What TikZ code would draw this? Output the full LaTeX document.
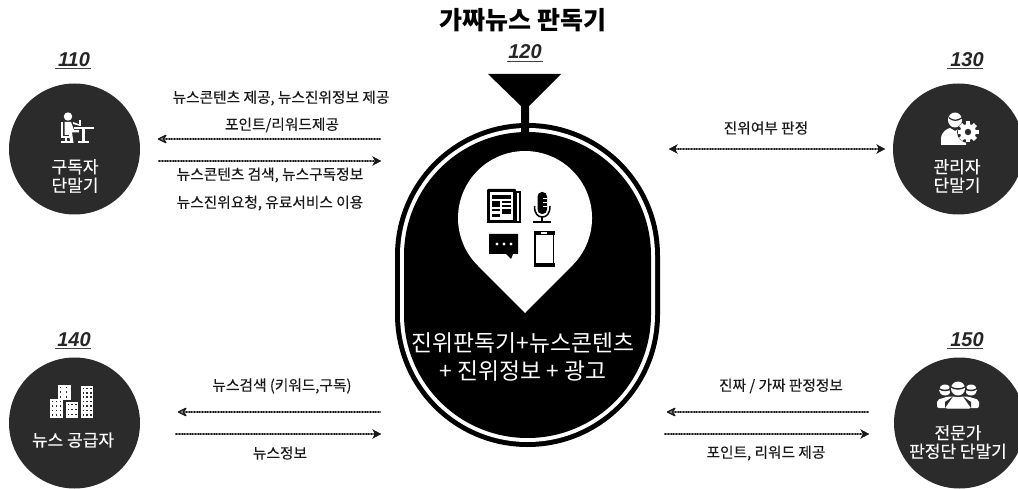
\documentclass[tikz,border=0pt]{standalone}
\usepackage{fontspec}
\usetikzlibrary{arrows.meta}
\setmainfont{Noto Sans CJK KR}
\newfontfamily\krlab[FakeBold=0.25]{Noto Sans CJK KR}
\newfontfamily\numfont{Liberation Sans}
\definecolor{disc}{HTML}{2B2B2B}
\tikzset{
  disc/.style={circle,fill=disc,draw=none,minimum size=131pt,inner sep=0pt},
  numlabel/.style={font=\numfont\bfseries\itshape\fontsize{20}{20}\selectfont,text=black!85,inner sep=0pt},
  numrule/.style={draw=black!75,line width=0.9pt},
  lab/.style={font=\krlab\fontsize{14.7}{16}\selectfont,text=black!90,inner sep=0pt},
  disctext/.style={font=\krlab\fontsize{17}{18.5}\selectfont,text=white,inner sep=0pt,align=center},
  centertext/.style={font=\fontsize{22.8}{28}\selectfont,text=white,inner sep=0pt,align=center},
  flow/.style={line width=2.2pt,black!55,preaction={draw=black!90,line width=1.3pt},dash pattern=on 0.8pt off 0.8pt},
  toL/.style={flow,{Stealth[length=10pt,width=10pt,fill=black!45,color=black!90,line width=1.1pt,round]}-},
  toR/.style={flow,-{Stealth[length=8.5pt,width=9pt,color=black!90,fill=black!90]}},
  both/.style={flow,{Stealth[length=8.5pt,width=9pt,color=black!90,fill=black!90]}-{Stealth[length=8.5pt,width=9pt,color=black!90,fill=black!90]}},
  ico/.style={fill=white,draw=none},
  icodark/.style={fill=disc,draw=none},
  blk/.style={fill=black,draw=none},
}
\begin{document}
\begin{tikzpicture}[x=1pt,y=1pt,yscale=-1]
\useasboundingbox[fill=white] (0,0) rectangle (1018,489);

% title
\node[font=\bfseries\fontsize{25}{28}\selectfont,inner sep=0pt] (title) at (523,20) {가짜뉴스 판독기};

% discs
\begin{scope}
\clip (0,0) rectangle (1018,489);
\node[disc] (c110) at (74.5,149) {};
\node[disc] (c130) at (958.5,149) {};
\node[disc] (c140) at (74.5,423) {};
\node[disc] (c150) at (959.5,423) {};
\end{scope}

% numbers
\node[numlabel] (n110) at (74,60) {110};
\node[numlabel] (n120) at (525,52) {120};
\node[numlabel] (n130) at (967,60) {130};
\node[numlabel] (n140) at (74,340) {140};
\node[numlabel] (n150) at (967,340) {150};
\draw[numrule] (55,68.5) -- (91,68.5);
\draw[numrule] (507,61) -- (543,61);
\draw[numrule] (947,68.5) -- (983,68.5);
\draw[numrule] (55,348.5) -- (91,348.5);
\draw[numrule] (947,348.5) -- (983,348.5);

% central capsule
\fill[black] (395,255.5) arc[start angle=180,end angle=360,radius=132.5] -- (660,314.5) arc[start angle=0,end angle=180,radius=132.5] -- cycle;
\fill[white] (400,255.5) arc[start angle=180,end angle=360,radius=127.5] -- (655,314.5) arc[start angle=0,end angle=180,radius=127.5] -- cycle;
\fill[black] (404,255.5) arc[start angle=180,end angle=360,radius=123.5] -- (651,314.5) arc[start angle=0,end angle=180,radius=123.5] -- cycle;
% funnel
\fill[black] (488,74) -- (561,74) -- (529,106) -- (529,135) -- (521,135) -- (521,106) -- cycle;
% pin
\fill[white] (525,313) -- (572.4,265.4) arc[start angle=45,end angle=-225,radius=67] -- cycle;
\node[centertext] (ctext) at (523,357) {진위판독기+뉴스콘텐츠\\+ 진위정보 + 광고};

% newspaper
\fill[blk] (487,191) rectangle (521,223);
\fill[blk,rounded corners=1pt] (487,189) rectangle (516,223);
\fill[white] (490,192) rectangle (513,220);
\fill[white] (517,193) rectangle (519,221);
\fill[blk] (492,195) rectangle (511,199);
\fill[blk] (492,201) rectangle (500,207);
\fill[blk] (502,201) rectangle (511,203);
\fill[blk] (502,205) rectangle (511,207);
\fill[blk] (492,209) rectangle (500,211);
\fill[blk] (502,209) rectangle (511,214);
\fill[blk] (492,214) rectangle (500,217);
% microphone
\draw[black,line width=1.5pt] (534.5,206) .. controls (534.5,214) and (538,217) .. (542.2,217) .. controls (546.5,217) and (550,214) .. (550,206);
\fill[blk,rounded corners=4.5pt] (537.5,192) rectangle (547,214);
\foreach \yy in {198,202,206}{\fill[white] (542.5,\yy) rectangle (547,\yy+1.2);}
\fill[blk] (541.2,217) rectangle (543.2,222);
\fill[blk] (533,221) rectangle (551,222.6);
% chat
\fill[blk] (489,234) -- (518,234) -- (518,254) -- (513,254) -- (511,259) -- (506,254) -- (489,254) -- cycle;
\foreach \xx in {497,504,511}{\fill[white] (\xx,244) circle[radius=1.6];}
% phone
\draw[black,line width=1.6pt] (535,232) rectangle (553.5,266);
\fill[blk] (534,231) rectangle (554.5,235.5);
\fill[blk] (534,263.5) rectangle (554.5,267);
\fill[white] (541,232.5) rectangle (547,234);

% 110 icon
\fill[ico] (68,116.5) circle[radius=4.2];
\fill[ico] (64.5,122) -- (71,122) -- (74,130) -- (79,130) -- (79,132.5) -- (72,132.5) -- (73.5,143) -- (70.5,143) -- (69,135) -- (64.5,135) -- cycle;
\fill[ico] (61,122) rectangle (63,136);
\fill[ico] (61,136) rectangle (70,138);
\fill[ico] (64.5,138) rectangle (66.5,141);
\fill[ico] (61,141) rectangle (72,143);
\fill[ico] (74,127) rectangle (94,129);
\fill[ico] (82,129) rectangle (85,142);
\fill[ico] (78,141.5) rectangle (89,143);
\fill[ico] (73,122) -- (80,124.5) -- (80,126) -- (73,124) -- cycle;
\fill[ico] (79,120) rectangle (81,126.5);
% 130 icon
\fill[ico] (955,120) ellipse[x radius=7,y radius=7.5];
\fill[icodark] (949,117) .. controls (953,121) and (958,120) .. (962,117) -- (962,118.5) .. controls (958,121.5) and (953,122) .. (949,118.5) -- cycle;
\fill[ico] (941,145) -- (941,138) .. controls (942,131) and (947,129) .. (950,128) -- (955,131) -- (960,128) .. controls (962,129) and (965,130) .. (966,132) -- (966,145) -- cycle;
\fill[disc] (968,132) circle[radius=11];
\foreach \a in {0,45,...,315}{\fill[white,rotate around={\a:(968,132)}] (965.8,121.5) rectangle (970.2,125);}
\fill[white] (968,132) circle[radius=8];
\fill[disc] (968,132) circle[radius=3.2];
% 140 icon
\foreach \xa/\ya/\xb/\yb/\nc/\nr in {58/385/71/400/2/3, 50/399/63/418/3/4, 66/402/78/418/3/3, 81/386/93/418/3/7}{
  \fill[ico] (\xa,\ya) rectangle (\xb,\yb);
  \pgfmathsetmacro{\dx}{(\xb-\xa-1)/\nc}
  \pgfmathsetmacro{\dy}{(\yb-\ya-1)/\nr}
  \pgfmathtruncatemacro{\ncm}{\nc-1}
  \pgfmathtruncatemacro{\nrm}{\nr-1}
  \foreach \ii in {0,...,\ncm}{\foreach \jj in {0,...,\nrm}{
    \fill[icodark] ({\xa+1.6+\ii*\dx},{\ya+1.5+\jj*\dy}) rectangle ++(1.7,1.7);
  }}
}
% 150 icon
\foreach \cx/\cy/\rr in {945/390/6,971/390/6}{
  \fill[ico] (\cx,\cy) ellipse[x radius=\rr,y radius=5.5];
  \fill[icodark] (\cx-\rr-1,\cy-2.5) .. controls (\cx-2,\cy+0.5) and (\cx+2,\cy+0.5) .. (\cx+\rr+1,\cy-2.5) -- (\cx+\rr+1,\cy-1) .. controls (\cx+2,\cy+2) and (\cx-2,\cy+2) .. (\cx-\rr-1,\cy-1) -- cycle;
}
\fill[ico,rounded corners=2pt] (937,408) -- (937,400) -- (948,396.5) -- (968,396.5) -- (979,400) -- (979,408) -- cycle;
\fill[disc] (958,388.5) ellipse[x radius=8.8,y radius=8.5];
\fill[ico] (958,388.5) ellipse[x radius=7,y radius=7];
\fill[icodark] (950.5,386) .. controls (955,389) and (961,389) .. (965.5,386) -- (965.5,387.5) .. controls (961,390.5) and (955,390.5) .. (950.5,387.5) -- cycle;
\fill[ico,rounded corners=2pt] (945,408.5) -- (945,402) -- (953,397.5) -- (963,397.5) -- (971,402) -- (971,408.5) -- cycle;
\draw[disc,line width=1pt] (945,408) -- (945,402) -- (953,396.5);
\draw[disc,line width=1pt] (971,408) -- (971,402) -- (963,396.5);

% disc text
\node[disctext] (t110) at (75,176) {구독자\\단말기};
\node[disctext] (t130) at (957,176) {관리자\\단말기};
\node[disctext] (t140) at (73,440) {뉴스 공급자};
\node[disctext] (t150) at (958,442) {전문가\\판정단 단말기};

% connector ends
\coordinate (a1l) at (158,139); \coordinate (a1r) at (381,139);
\coordinate (a2l) at (158,161); \coordinate (a2r) at (381,161);
\coordinate (a3l) at (669,149); \coordinate (a3r) at (885,149);
\coordinate (a4l) at (178,412); \coordinate (a4r) at (381,412);
\coordinate (a5l) at (175,434); \coordinate (a5r) at (381,434);
\coordinate (a6l) at (667,412); \coordinate (a6r) at (869,412);
\coordinate (a7l) at (664,434); \coordinate (a7r) at (869,434);
\draw[toL] (a1l) -- (a1r);
\draw[toR] (a2l) -- (a2r);
\draw[both] (a3l) -- (a3r);
\draw[toL] (a4l) -- (a4r);
\draw[toR] (a5l) -- (a5r);
\draw[toL] (a6l) -- (a6r);
\draw[toR] (a7l) -- (a7r);

% connector labels
\node[lab] (l1) at (281,98) {뉴스콘텐츠 제공, 뉴스진위정보 제공};
\node[lab] (l2) at (282,125) {포인트/리워드제공};
\node[lab] (l3) at (270,175) {뉴스콘텐츠 검색, 뉴스구독정보};
\node[lab] (l4) at (270,203) {뉴스진위요청, 유료서비스 이용};
\node[lab] (l5) at (766,128) {진위여부 판정};
\node[lab] (l6) at (282,386) {뉴스검색 (키워드,구독)};
\node[lab] (l7) at (280,453) {뉴스정보};
\node[lab] (l8) at (781,386) {진짜 / 가짜 판정정보};
\node[lab] (l9) at (766,453) {포인트, 리워드 제공};
\end{tikzpicture}
\end{document}
